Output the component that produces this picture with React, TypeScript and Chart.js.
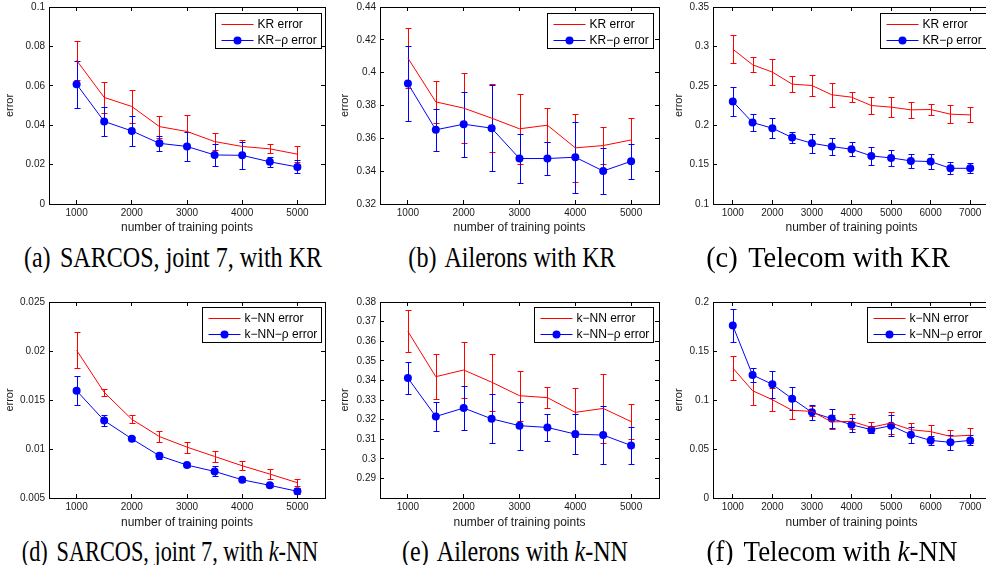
import React, { useEffect, useRef } from "react";
import { Chart, registerables } from "chart.js";

Chart.register(...registerables);

// ---------------- data ----------------
const x5 = [1000, 1500, 2000, 2500, 3000, 3500, 4000, 4500, 5000];
const x7 = [1000, 1500, 2000, 2500, 3000, 3500, 4000, 4500, 5000, 5500, 6000, 6500, 7000];

const xTicks5 = [1000, 2000, 3000, 4000, 5000];
const xTicks7 = [1000, 2000, 3000, 4000, 5000, 6000, 7000];

// (a) SARCOS with KR
const aKR = [0.0729, 0.0541, 0.0495, 0.0393, 0.0368, 0.0317, 0.0292, 0.028, 0.0253];
const aKRerr = [0.01, 0.008, 0.0082, 0.0056, 0.0085, 0.0042, 0.0032, 0.0023, 0.0039];
const aRho = [0.0608, 0.0419, 0.0371, 0.0308, 0.0292, 0.0249, 0.0247, 0.0214, 0.0188];
const aRhoErr = [0.012, 0.0074, 0.0077, 0.0037, 0.0075, 0.0055, 0.007, 0.0027, 0.0033];
const aYTicks = [0, 0.02, 0.04, 0.06, 0.08, 0.1];

// (b) Ailerons with KR
const bKR = [0.4089, 0.3822, 0.3784, 0.3723, 0.3658, 0.368, 0.3542, 0.3556, 0.359];
const bKRerr = [0.0182, 0.013, 0.0215, 0.0207, 0.0212, 0.0102, 0.0205, 0.0114, 0.0132];
const bRho = [0.3934, 0.3652, 0.3686, 0.3662, 0.3477, 0.3477, 0.3485, 0.3401, 0.346];
const bRhoErr = [0.0226, 0.0128, 0.0197, 0.0262, 0.015, 0.0103, 0.0216, 0.0143, 0.0108];
const bYTicks = [0.32, 0.34, 0.36, 0.38, 0.4, 0.42, 0.44];

// (c) Telecom with KR
const cKR = [0.2966, 0.2767, 0.2674, 0.2521, 0.2504, 0.2386, 0.2356, 0.225, 0.2229, 0.2195, 0.2199, 0.214, 0.2131];
const cKRerr = [0.0182, 0.0095, 0.0167, 0.0106, 0.0134, 0.0152, 0.0062, 0.0102, 0.0128, 0.0102, 0.0074, 0.0115, 0.0094];
const cRho = [0.2301, 0.2034, 0.1962, 0.1843, 0.1771, 0.1729, 0.1695, 0.161, 0.1585, 0.1547, 0.1538, 0.1453, 0.1453];
const cRhoErr = [0.018, 0.011, 0.0127, 0.0075, 0.0122, 0.0103, 0.009, 0.0115, 0.0097, 0.0085, 0.0091, 0.0076, 0.0065];
const cYTicks = [0.1, 0.15, 0.2, 0.25, 0.3, 0.35];

// (d) SARCOS with k-NN
const dKR = [0.02008, 0.01578, 0.01303, 0.01127, 0.01019, 0.00924, 0.00829, 0.00744, 0.00656];
const dKRerr = [0.00182, 0.00037, 0.00042, 0.0006, 0.00056, 0.00058, 0.00045, 0.00051, 0.00037];
const dRho = [0.01595, 0.0129, 0.01104, 0.00931, 0.00836, 0.00771, 0.00686, 0.00629, 0.00568];
const dRhoErr = [0.00149, 0.00057, 0.0002, 0.00033, 0.0002, 0.00051, 0.00018, 0.0002, 0.00032];
const dYTicks = [0.005, 0.01, 0.015, 0.02, 0.025];

// (e) Ailerons with k-NN
const eKR = [0.365, 0.3419, 0.3453, 0.3391, 0.3322, 0.3312, 0.3237, 0.3257, 0.319];
const eKRerr = [0.0107, 0.0116, 0.0144, 0.0145, 0.0128, 0.0053, 0.0124, 0.0175, 0.0089];
const eRho = [0.3412, 0.3216, 0.3259, 0.3204, 0.3169, 0.316, 0.3126, 0.3121, 0.3068];
const eRhoErr = [0.008, 0.0073, 0.011, 0.0125, 0.0123, 0.0068, 0.0104, 0.0147, 0.0094];
const eYTicks = [0.29, 0.3, 0.31, 0.32, 0.33, 0.34, 0.35, 0.36, 0.37, 0.38];

// (f) Telecom with k-NN
const fKR = [0.1327, 0.1095, 0.1003, 0.0895, 0.0884, 0.0776, 0.0782, 0.0721, 0.0765, 0.0697, 0.0677, 0.0629, 0.064];
const fKRerr = [0.0122, 0.015, 0.012, 0.009, 0.005, 0.007, 0.0075, 0.0058, 0.011, 0.0068, 0.0063, 0.006, 0.0077];
const fRho = [0.1759, 0.1255, 0.116, 0.1014, 0.0874, 0.081, 0.0748, 0.0697, 0.0738, 0.0646, 0.0588, 0.0568, 0.0588];
const fRhoErr = [0.0168, 0.007, 0.014, 0.0114, 0.0078, 0.0099, 0.0071, 0.0034, 0.0107, 0.008, 0.0046, 0.0077, 0.005];
const fYTicks = [0, 0.05, 0.1, 0.15, 0.2];

const krLabels = ["KR error", "KR\u2212\u03c1 error"];
const knnLabels = ["k\u2212NN error", "k\u2212NN\u2212\u03c1 error"];

// ---------------- styling ----------------
const RED = "#ff0000";
const BLUE = "#0000ff";
const SANS = '"Liberation Sans", Arial, sans-serif';
const TEXT = "#1a1a1a";

type PanelCfg = {
  left: number; top: number; w: number; h: number;
  yW: number; xH: number; padTop: number; padRight: number;
  yTitlePad: number; xTitlePad: number;
  x: number[]; xTicks: number[]; xMin: number; xMax: number;
  yTicks: number[]; yMin: number; yMax: number;
  red: number[]; redErr: number[]; blue: number[]; blueErr: number[];
  labels: string[]; legendTop: number; legendRight: number;
};

const errorBarPlugin = {
  id: "errorBars",
  beforeDatasetsDraw(chart: any) {
    const ctx = chart.ctx;
    const xs = chart.scales.x;
    const ys = chart.scales.y;
    chart.data.datasets.forEach((ds: any) => {
      ctx.save();
      ctx.strokeStyle = ds.borderColor;
      ctx.lineWidth = 1;
      ds.data.forEach((p: any, i: number) => {
        const e = ds.errors[i];
        const px = Math.round(xs.getPixelForValue(p.x)) + 0.5;
        const yt = Math.round(ys.getPixelForValue(p.y + e)) + 0.5;
        const yb = Math.round(ys.getPixelForValue(p.y - e)) + 0.5;
        ctx.beginPath();
        ctx.moveTo(px, yt);
        ctx.lineTo(px, yb);
        ctx.moveTo(px - 3, yt);
        ctx.lineTo(px + 3, yt);
        ctx.moveTo(px - 3, yb);
        ctx.lineTo(px + 3, yb);
        ctx.stroke();
      });
      ctx.restore();
    });
  },
};

const legendPlugin = {
  id: "boxLegend",
  afterDraw(chart: any, _args: any, opts: any) {
    const ctx = chart.ctx;
    const a = chart.chartArea;
    const dss = chart.data.datasets;
    ctx.save();
    ctx.font = `12px ${SANS}`;
    const tw = Math.max(...dss.map((d: any) => ctx.measureText(d.label).width));
    const lw = 6 + 32 + 4 + tw + 5;
    const lh = 35;
    const right = Math.round(a.right - opts.right) - 0.5;
    const left = Math.round(right - lw) + 0.5;
    const top = Math.round(a.top + opts.top) + 0.5;
    ctx.fillStyle = "#fff";
    ctx.fillRect(left, top, right - left, lh);
    ctx.strokeStyle = "#000";
    ctx.lineWidth = 1;
    ctx.strokeRect(left, top, right - left, lh);
    const rows = [top + 10, top + 26];
    dss.forEach((d: any, i: number) => {
      const y = Math.round(rows[i]) + 0.5;
      ctx.strokeStyle = d.borderColor;
      ctx.beginPath();
      ctx.moveTo(left + 6, y);
      ctx.lineTo(left + 38, y);
      ctx.stroke();
      if (d.pointRadius > 0) {
        ctx.fillStyle = d.borderColor;
        ctx.beginPath();
        ctx.arc(left + 22, y, d.pointRadius, 0, Math.PI * 2);
        ctx.fill();
      }
      ctx.fillStyle = "#000";
      ctx.textBaseline = "middle";
      ctx.textAlign = "left";
      ctx.fillText(d.label, left + 42, y);
    });
    ctx.restore();
  },
};

const fmt = (v: number) => String(parseFloat(v.toFixed(6)));

// MATLAB-like box: inward tick marks on all four sides
const inwardGrid = {
  display: true,
  drawOnChartArea: false,
  drawTicks: true,
  tickLength: -4,
  color: "#000",
  tickColor: "#000",
  lineWidth: 1,
  tickWidth: 1,
};
const boxBorder = { display: true, color: "#000", width: 1 };

const zeroPad = (s: any) => {
  s.paddingTop = 0;
  s.paddingBottom = 0;
  s.paddingLeft = 0;
  s.paddingRight = 0;
};

function Panel({ cfg }: { cfg: PanelCfg }) {
  const ref = useRef<HTMLCanvasElement>(null);
  useEffect(() => {
    const setX = (s: any) => {
      s.ticks = cfg.xTicks.map((v) => ({ value: v }));
    };
    const setY = (s: any) => {
      s.ticks = cfg.yTicks.map((v) => ({ value: v }));
    };
    const chart = new Chart(ref.current as HTMLCanvasElement, {
      type: "line",
      data: {
        datasets: [
          {
            label: cfg.labels[0],
            data: cfg.x.map((x, i) => ({ x, y: cfg.red[i] })),
            borderColor: RED,
            backgroundColor: RED,
            borderWidth: 1,
            pointRadius: 0,
            tension: 0,
            xAxisID: "x",
            yAxisID: "y",
            errors: cfg.redErr,
          } as any,
          {
            label: cfg.labels[1],
            data: cfg.x.map((x, i) => ({ x, y: cfg.blue[i] })),
            borderColor: BLUE,
            backgroundColor: BLUE,
            borderWidth: 1,
            pointRadius: 4,
            pointBackgroundColor: BLUE,
            pointBorderWidth: 0,
            tension: 0,
            xAxisID: "x",
            yAxisID: "y",
            errors: cfg.blueErr,
          } as any,
        ],
      },
      options: {
        animation: false,
        responsive: false,
        events: [],
        layout: { padding: { top: cfg.padTop, right: cfg.padRight, left: 0, bottom: 0 } },
        plugins: {
          legend: { display: false },
          tooltip: { enabled: false },
          boxLegend: { top: cfg.legendTop, right: cfg.legendRight },
        } as any,
        scales: {
          x: {
            type: "linear",
            position: "bottom",
            min: cfg.xMin,
            max: cfg.xMax,
            afterBuildTicks: setX,
            afterFit: (s: any) => {
              s.height = cfg.xH;
              zeroPad(s);
            },
            grid: inwardGrid,
            border: boxBorder,
            ticks: {
              font: { family: SANS, size: 10 },
              color: TEXT,
              padding: 7,
              maxRotation: 0,
              autoSkip: false,
              callback: (v: any) => String(v),
            },
            title: {
              display: true,
              text: "number of training points",
              font: { family: SANS, size: 12 },
              color: TEXT,
              padding: { top: 0, bottom: cfg.xTitlePad },
            },
          },
          x2: {
            type: "linear",
            axis: "x",
            position: "top",
            min: cfg.xMin,
            max: cfg.xMax,
            afterBuildTicks: setX,
            afterFit: (s: any) => {
              s.height = 0;
              zeroPad(s);
            },
            grid: inwardGrid,
            border: boxBorder,
            ticks: { display: false },
          },
          y: {
            type: "linear",
            position: "left",
            min: cfg.yMin,
            max: cfg.yMax,
            afterBuildTicks: setY,
            afterFit: (s: any) => {
              s.width = cfg.yW;
              zeroPad(s);
            },
            grid: inwardGrid,
            border: boxBorder,
            ticks: {
              font: { family: SANS, size: 10 },
              color: TEXT,
              padding: 8,
              autoSkip: false,
              callback: (v: any) => fmt(Number(v)),
            },
            title: {
              display: true,
              text: "error",
              font: { family: SANS, size: 11 },
              color: TEXT,
              padding: { top: cfg.yTitlePad, bottom: 0 },
            },
          },
          y2: {
            type: "linear",
            axis: "y",
            position: "right",
            min: cfg.yMin,
            max: cfg.yMax,
            afterBuildTicks: setY,
            afterFit: (s: any) => {
              s.width = 0;
              zeroPad(s);
            },
            grid: inwardGrid,
            border: boxBorder,
            ticks: { display: false },
          },
        } as any,
      },
      plugins: [errorBarPlugin, legendPlugin],
    });
    return () => chart.destroy();
  }, [cfg]);
  return (
    <canvas
      ref={ref}
      width={cfg.w}
      height={cfg.h}
      style={{ position: "absolute", left: cfg.left, top: cfg.top, width: cfg.w, height: cfg.h }}
    />
  );
}

const row1 = { top: 0, h: 236, padTop: 7, xH: 32, xTitlePad: 0.8, legendTop: 5.5 };
const row2 = { top: 290, h: 242, padTop: 12, xH: 34, xTitlePad: 1.8, legendTop: 4.5 };
const colA = { left: 0, w: 330, yW: 49, padRight: 5, yTitlePad: 3.4, legendRight: 3 };
const colB = { left: 330, w: 334, yW: 50, padRight: 5, yTitlePad: 8.4, legendRight: 5 };
const colC = { left: 656, w: 339, yW: 57, padRight: 5, yTitlePad: 16.4, legendRight: 3 };

const panels: PanelCfg[] = [
  { ...row1, ...colA, x: x5, xTicks: xTicks5, xMin: 500, xMax: 5500, yTicks: aYTicks, yMin: 0, yMax: 0.1, red: aKR, redErr: aKRerr, blue: aRho, blueErr: aRhoErr, labels: krLabels },
  { ...row1, ...colB, x: x5, xTicks: xTicks5, xMin: 500, xMax: 5500, yTicks: bYTicks, yMin: 0.32, yMax: 0.44, red: bKR, redErr: bKRerr, blue: bRho, blueErr: bRhoErr, labels: krLabels },
  { ...row1, ...colC, x: x7, xTicks: xTicks7, xMin: 500, xMax: 7500, yTicks: cYTicks, yMin: 0.1, yMax: 0.35, red: cKR, redErr: cKRerr, blue: cRho, blueErr: cRhoErr, labels: krLabels },
  { ...row2, ...colA, x: x5, xTicks: xTicks5, xMin: 500, xMax: 5500, yTicks: dYTicks, yMin: 0.005, yMax: 0.025, red: dKR, redErr: dKRerr, blue: dRho, blueErr: dRhoErr, labels: knnLabels },
  { ...row2, ...colB, x: x5, xTicks: xTicks5, xMin: 500, xMax: 5500, yTicks: eYTicks, yMin: 0.28, yMax: 0.38, red: eKR, redErr: eKRerr, blue: eRho, blueErr: eRhoErr, labels: knnLabels },
  { ...row2, ...colC, x: x7, xTicks: xTicks7, xMin: 500, xMax: 7500, yTicks: fYTicks, yMin: 0, yMax: 0.2, red: fKR, redErr: fKRerr, blue: fRho, blueErr: fRhoErr, labels: knnLabels },
];

const captions = [
  { cx: 173, cy: 257, sx: 0.83, tag: "(a)", text: "SARCOS, joint 7, with KR", k: false },
  { cx: 512, cy: 257, sx: 0.83, tag: "(b)", text: "Ailerons with KR", k: false },
  { cx: 828, cy: 257, sx: 0.98, tag: "(c)", text: "Telecom with KR", k: false },
  { cx: 170, cy: 551, sx: 0.77, tag: "(d)", text: "SARCOS, joint 7, with ", k: true },
  { cx: 515, cy: 551, sx: 0.83, tag: "(e)", text: "Ailerons with ", k: true },
  { cx: 832, cy: 551, sx: 0.93, tag: "(f)", text: "Telecom with ", k: true },
];

export default function App() {
  return (
    <div
      style={{
        position: "absolute",
        left: 0,
        top: 0,
        width: 986,
        height: 565,
        overflow: "hidden",
        background: "#fff",
      }}
    >
      {panels.map((p, i) => (
        <Panel key={i} cfg={p} />
      ))}
      {captions.map((c, i) => (
        <div
          key={"c" + i}
          style={{
            position: "absolute",
            left: c.cx,
            top: c.cy - 18,
            height: 36,
            lineHeight: "36px",
            whiteSpace: "nowrap",
            fontFamily: '"Liberation Serif", "Times New Roman", serif',
            fontSize: 29,
            color: "#000",
            transform: `translateX(-50%) scaleX(${c.sx})`,
          }}
        >
          <span style={{ marginRight: 4 }}>{c.tag}</span> {c.text}
          {c.k ? (
            <>
              <i>k</i>-NN
            </>
          ) : null}
        </div>
      ))}
    </div>
  );
}
